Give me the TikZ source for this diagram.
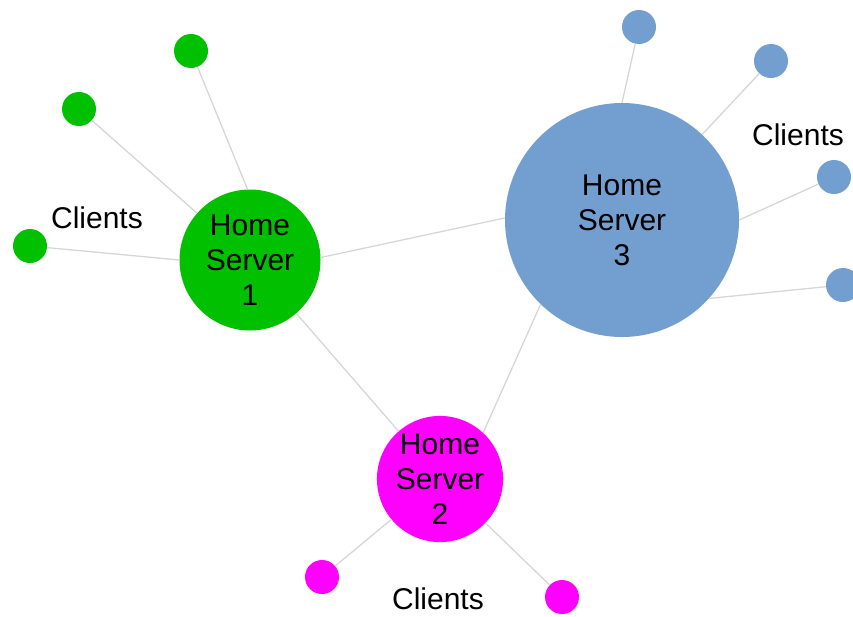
\documentclass[tikz,border=0pt]{standalone}
\usepackage{fontspec}
\setmainfont{Liberation Sans}
\usetikzlibrary{positioning}
\definecolor{hsgreen}{RGB}{0,192,0}
\definecolor{hsblue}{RGB}{114,159,207}
\definecolor{hspink}{RGB}{255,0,255}
\definecolor{linkgray}{RGB}{214,214,214}

\begin{document}
\begin{tikzpicture}[
			x=1pt,y=-1pt,
			server/.style={
				circle,
				inner sep=0,
				align=center,
				text=black,
				font=\fontsize{30}{35}\selectfont,
			},
			client/.style={
				circle,
				inner sep=0,
				minimum size=34pt,
			},
			link/.style={
				draw=linkgray,
				line width=1.3pt,
			},
			lbl/.style={
				font=\fontsize{30}{35}\selectfont,
			}
		]
		\useasboundingbox (0,0) rectangle (853,616);
		\clip (0,0) rectangle (853,616);

		\node[server,fill=hsgreen,minimum size=141pt] (hs1) at (250,260) {Home\\Server\\1};
		\node[server,fill=hspink,minimum size=122pt] (hs2) at (440,479) {Home\\Server\\2};
		\node[server,fill=hsblue,minimum size=234pt] (hs3) at (622,220) {Home\\Server\\3};

		\node[client,fill=hsgreen] (c1a) at (191,51) {};
		\node[client,fill=hsgreen] (c1b) at (79,109) {};
		\node[client,fill=hsgreen] (c1c) at (30,246) {};
		\node[lbl] (l1) at (97,218) {Clients};

		\node[client,fill=hspink] (c2a) at (322,577) {};
		\node[client,fill=hspink] (c2b) at (562,597) {};
		\node[lbl] (l2) at (438,599) {Clients};

		\node[client,fill=hsblue] (c3a) at (639,27) {};
		\node[client,fill=hsblue] (c3b) at (771,61) {};
		\node[client,fill=hsblue] (c3c) at (834,177) {};
		\node[client,fill=hsblue] (c3d) at (843,285) {};
		\node[lbl] (l3) at (798,135) {Clients};

		\draw[link] (hs1.2) -- (hs3.179);
		\draw[link] (hs1) -- (hs2);
		\draw[link] (hs3.-134) -- (hs2.47);

		\draw[link] (hs1.92) -- (c1a);
		\draw[link] (hs1) -- (c1b);
		\draw[link] (hs1.west) -- (c1c);

		\draw[link] (hs2) -- (c2a);
		\draw[link] (hs2) -- (c2b);

		\draw[link] (hs3.north) -- (c3a);
		\draw[link] (hs3) -- (c3b);
		\draw[link] (hs3.east) -- (c3c);
		\draw[link] (hs3.-42) -- (c3d);

	\end{tikzpicture}
\end{document}
